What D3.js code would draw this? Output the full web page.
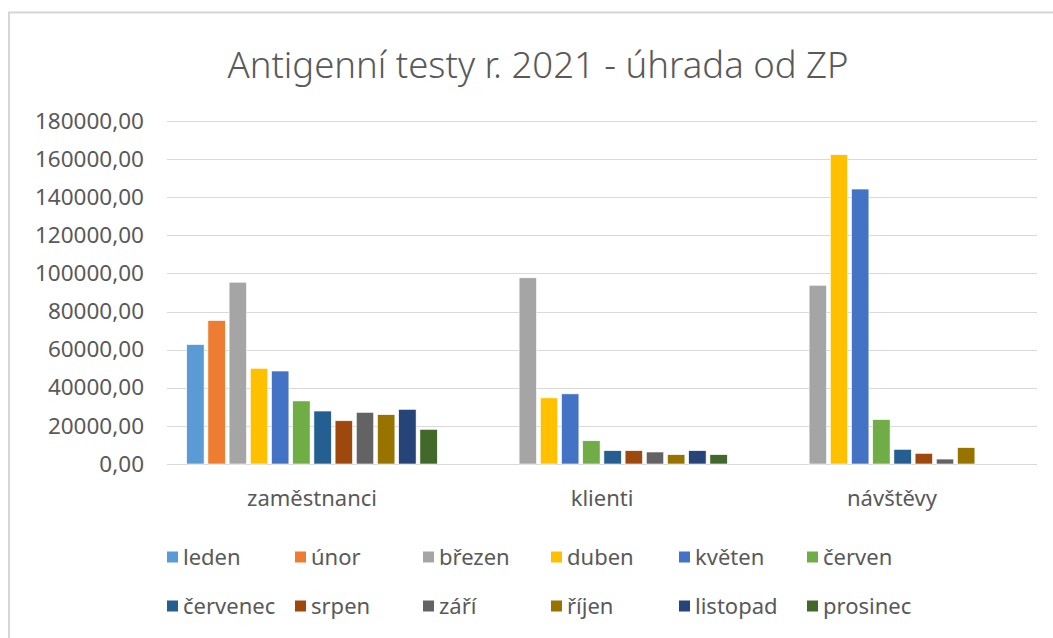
<!DOCTYPE html>
<html>
<head>
<meta charset="utf-8">
<script src="https://cdn.jsdelivr.net/npm/d3@7"></script>
<style>
  html, body { margin: 0; padding: 0; background: #fff; }
  svg { display: block; font-family: "Noto Sans", "Open Sans", sans-serif; }
</style>
</head>
<body>
<svg id="chart" width="1053" height="638"></svg>
<script>
const title = "Antigenní testy r. 2021 - úhrada od ZP";
const categories = ["zaměstnanci", "klienti", "návštěvy"];
const months = ["leden", "únor", "březen", "duben", "květen", "červen",
                "červenec", "srpen", "září", "říjen", "listopad", "prosinec"];
const colors = ["#5B9BD5", "#ED7D31", "#A5A5A5", "#FFC000", "#4472C4", "#70AD47",
                "#255E91", "#9E480E", "#636363", "#997300", "#264478", "#43682B"];
// values per category, in month order (null = no bar)
const zamestnanci = [62700, 75300, 95400, 50200, 48800, 33100, 27800, 22700, 27100, 25900, 28700, 18200];
const klienti     = [null, null, 97700, 34700, 36800, 12200, 7000, 7000, 6300, 4900, 7000, 4900];
const navstevy    = [null, null, 93800, 162300, 144300, 23300, 7700, 5600, 2600, 8600, null, null];
const yTicks = [0, 20000, 40000, 60000, 80000, 100000, 120000, 140000, 160000, 180000];

const seriesByCategory = [zamestnanci, klienti, navstevy];

const svg = d3.select("#chart");

// outer chart border (cropped chart area)
svg.append("path")
  .attr("d", "M9,638 V12.5 H1053")
  .attr("fill", "none")
  .attr("stroke", "#d6d6d6")
  .attr("stroke-width", 2);

// title
svg.append("text")
  .attr("x", 538).attr("y", 78)
  .attr("text-anchor", "middle")
  .attr("font-size", 36.5)
  .attr("font-weight", 300)
  .attr("fill", "#595959")
  .text(title);

const plotLeft = 167, plotRight = 1037, plotTop = 121, plotBottom = 464;

const y = d3.scaleLinear().domain([0, 180000]).range([plotBottom, plotTop]);
const x0 = d3.scaleBand().domain(categories).range([plotLeft, plotRight]).padding(0);
const x1 = d3.scaleBand().domain(months).range([0, x0.bandwidth()])
  .paddingInner(0.18).paddingOuter(0.93);

// gridlines
svg.append("g").selectAll("line").data(yTicks).join("line")
  .attr("x1", plotLeft).attr("x2", plotRight)
  .attr("y1", d => Math.round(y(d)) + 0.5).attr("y2", d => Math.round(y(d)) + 0.5)
  .attr("stroke", "#d9d9d9").attr("stroke-width", 1.2);

// y axis labels
const fmt = d => d3.format(".2f")(d).replace(".", ",");
const yAxis = d3.axisLeft(y).tickValues(yTicks).tickFormat(fmt).tickSize(0).tickPadding(0);
const gy = svg.append("g").attr("transform", `translate(144,0)`).call(yAxis);
gy.select(".domain").remove();
gy.selectAll("text")
  .attr("font-size", 22.5)
  .attr("font-family", "\"Noto Sans\", sans-serif")
  .attr("fill", "#595959");

// bars
const groups = svg.append("g").selectAll("g").data(categories).join("g")
  .attr("transform", d => `translate(${x0(d)},0)`);
groups.each(function(cat, ci) {
  const vals = seriesByCategory[ci];
  const data = months.map((m, i) => ({ m, i, v: vals[i] })).filter(d => d.v != null);
  d3.select(this).selectAll("rect").data(data).join("rect")
    .attr("x", d => x1(d.m))
    .attr("width", x1.bandwidth())
    .attr("y", d => y(d.v))
    .attr("height", d => y(0) - y(d.v))
    .attr("fill", d => colors[d.i])
    .attr("stroke", "#ffffff")
    .attr("stroke-width", 0.6);
});

// category labels
const xAxis = d3.axisBottom(x0).tickSize(0).tickPadding(0);
const gx = svg.append("g").attr("transform", `translate(0,${plotBottom})`).call(xAxis);
gx.select(".domain").remove();
gx.selectAll("text")
  .attr("dy", 0).attr("y", 42)
  .attr("font-size", 22)
  .attr("font-family", "\"Noto Sans\", sans-serif")
  .attr("fill", "#595959");

// legend
const legendX0 = 167, legendPitch = 128, legendRows = [557, 606];
const leg = svg.append("g").selectAll("g").data(months).join("g")
  .attr("transform", (d, i) => `translate(${legendX0 + (i % 6) * legendPitch},${legendRows[Math.floor(i / 6)]})`);
leg.append("rect")
  .attr("x", 0).attr("y", -5.5).attr("width", 11).attr("height", 11)
  .attr("fill", (d, i) => colors[i]);
leg.append("text")
  .attr("x", 16).attr("y", 0).attr("dy", "0.35em")
  .attr("font-size", 22)
  .attr("fill", "#595959")
  .text(d => d);
</script>
</body>
</html>
